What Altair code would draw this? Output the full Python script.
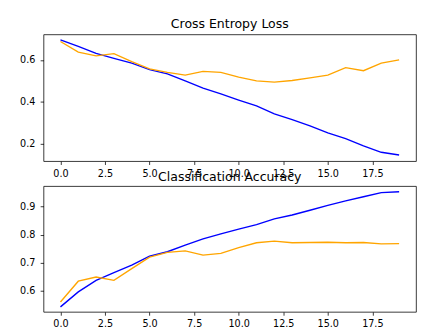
import altair as alt
import pandas as pd

epochs = list(range(20))
train_loss = [0.697, 0.666, 0.632, 0.608, 0.585, 0.554, 0.534, 0.500, 0.465, 0.438,
              0.408, 0.380, 0.342, 0.315, 0.285, 0.251, 0.223, 0.189, 0.158, 0.145]
val_loss = [0.689, 0.638, 0.620, 0.631, 0.592, 0.558, 0.541, 0.528, 0.546, 0.541,
            0.518, 0.500, 0.494, 0.502, 0.515, 0.528, 0.564, 0.549, 0.585, 0.601]
train_acc = [0.5425, 0.596, 0.637, 0.665, 0.691, 0.723, 0.739, 0.763, 0.785, 0.803,
             0.820, 0.836, 0.856, 0.870, 0.887, 0.904, 0.920, 0.935, 0.950, 0.953]
val_acc = [0.560, 0.634, 0.649, 0.637, 0.679, 0.720, 0.737, 0.742, 0.727, 0.733,
           0.754, 0.771, 0.777, 0.771, 0.772, 0.773, 0.771, 0.772, 0.767, 0.768]

x_ticks = [0.0, 2.5, 5.0, 7.5, 10.0, 12.5, 15.0, 17.5]
loss_ticks = [0.2, 0.4, 0.6]
acc_ticks = [0.6, 0.7, 0.8, 0.9]

X_DOMAIN = [-0.95, 19.95]
FONT = "DejaVu Sans"


def panel(title, train, val, y_domain, y_ticks, height, title_offset):
    df = pd.DataFrame({"epoch": epochs, "train": train, "val": val})
    xscale = alt.Scale(domain=X_DOMAIN, nice=False, zero=False)
    yscale = alt.Scale(domain=y_domain, nice=False, zero=False)
    xaxis = alt.Axis(values=x_ticks, format=".1f", title=None)
    yaxis = alt.Axis(values=y_ticks, format=".1f", title=None)
    base = alt.Chart(df)
    blue = base.mark_line(color="blue", strokeWidth=1.4).encode(
        x=alt.X("epoch:Q", scale=xscale, axis=xaxis),
        y=alt.Y("train:Q", scale=yscale, axis=yaxis),
    )
    orange = base.mark_line(color="orange", strokeWidth=1.4).encode(
        x=alt.X("epoch:Q", scale=xscale, axis=xaxis),
        y=alt.Y("val:Q", scale=yscale, axis=yaxis),
    )
    return alt.layer(blue, orange).properties(
        width=388,
        height=height,
        title=alt.TitleParams(
            title, font=FONT, fontSize=13, fontWeight="normal", color="black",
            anchor="middle", frame="group", offset=title_offset,
        ),
    )


top = panel("Cross Entropy Loss", train_loss, val_loss, [0.1155, 0.723], loss_ticks, 132, 3.6)
bottom = panel("Classification Accuracy", train_acc, val_acc, [0.5247, 0.973], acc_ticks, 131, 2)

chart = alt.VConcatChart(vconcat=[top, bottom], spacing=26, bounds="flush").properties(
    padding={"left": 11, "top": 3.7, "right": 0, "bottom": 0}
).configure_view(stroke="black", strokeWidth=0.8).configure_axis(
    grid=False,
    domain=False,
    labelFont=FONT,
    labelFontSize=10,
    labelColor="black",
    tickColor="black",
    tickWidth=0.8,
    tickSize=3.5,
    labelPadding=4,
).configure_axisLeft(labelPadding=5.5)

chart.save("out.html", embed_options={"renderer": "svg", "actions": False})
